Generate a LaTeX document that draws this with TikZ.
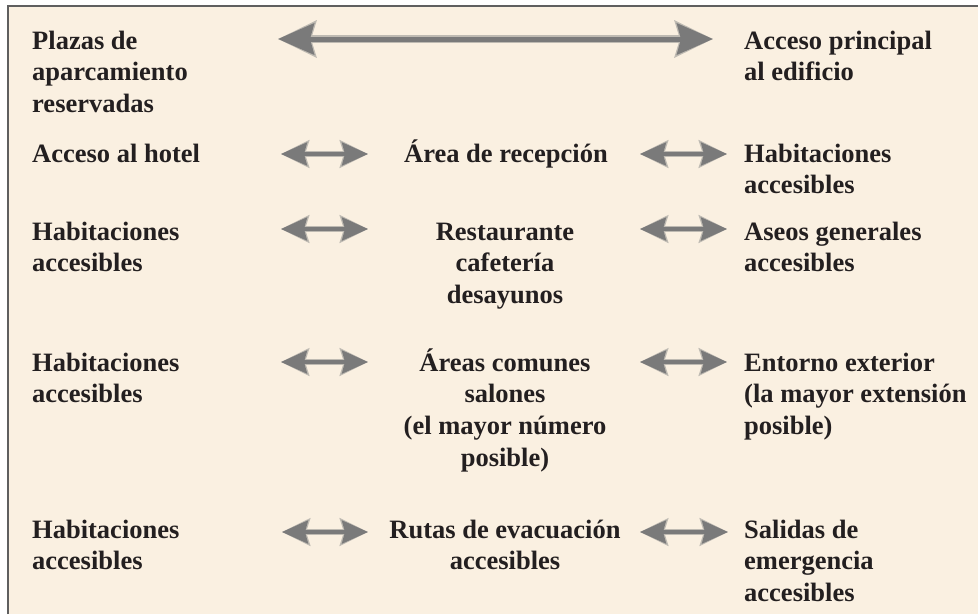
\documentclass[tikz,border=0pt]{standalone}
\usepackage{fontspec}
\setmainfont{Liberation Serif}
\usetikzlibrary{arrows.meta}
\definecolor{bgbeige}{RGB}{250,240,225}
\definecolor{framegray}{RGB}{95,95,95}
\definecolor{arrowgray}{RGB}{122,122,122}
\definecolor{halogray}{RGB}{190,186,178}
\definecolor{textdark}{RGB}{35,31,32}
\newcommand{\lcell}[1]{\begin{tabular}[t]{@{}l@{}}#1\end{tabular}}
\newcommand{\ccell}[1]{\begin{tabular}[t]{@{}c@{}}#1\end{tabular}}
\tikzset{
  txt/.style={inner sep=0pt, text=textdark, font=\fontsize{26.5}{31.7}\selectfont\bfseries},
  lefttxt/.style={txt, anchor=base west},
  midtxt/.style={txt, anchor=base},
  bighalo/.style={draw=halogray, line width=8pt,
    {Stealth[length=38pt,width=36pt,inset=5pt]}-{Stealth[length=38pt,width=36pt,inset=5pt]}},
  bigarrow/.style={draw=arrowgray, line width=5pt,
    {Stealth[length=36pt,width=31pt,inset=4pt]}-{Stealth[length=36pt,width=31pt,inset=4pt]}},
  smallhalo/.style={draw=halogray, line width=6pt,
    {Stealth[length=28pt,width=27pt,inset=4pt]}-{Stealth[length=28pt,width=27pt,inset=4pt]}},
  smallarrow/.style={draw=arrowgray, line width=3.5pt,
    {Stealth[length=26pt,width=23pt,inset=3pt]}-{Stealth[length=26pt,width=23pt,inset=3pt]}},
}
\begin{document}
\begin{tikzpicture}[x=1pt,y=-1pt]
  \useasboundingbox (0,0) rectangle (978,614);
  \fill[white] (0,0) rectangle (978,614);
  \fill[bgbeige] (8,6) rectangle (978,614);
  \draw[framegray, line width=1.6pt] (8,614) -- (8,6) -- (978,6);

  % left column
  \node[lefttxt] (l1) at (32,49)  {\lcell{Plazas de\\aparcamiento\\reservadas}};
  \node[lefttxt] (l2) at (32,162) {\lcell{Acceso al hotel}};
  \node[lefttxt] (l3) at (32,240) {\lcell{Habitaciones\\accesibles}};
  \node[lefttxt] (l4) at (32,371) {\lcell{Habitaciones\\accesibles}};
  \node[lefttxt] (l5) at (32,538) {\lcell{Habitaciones\\accesibles}};

  % centre column
  \node[midtxt] (c2) at (506,162) {\ccell{Área de recepción}};
  \node[midtxt] (c3) at (505,240) {\ccell{Restaurante\\cafetería\\desayunos}};
  \node[midtxt] (c4) at (505,371) {\ccell{Áreas comunes\\salones\\(el mayor número\\posible)}};
  \node[midtxt] (c5) at (505,538) {\ccell{Rutas de evacuación\\accesibles}};

  % right column
  \node[lefttxt] (r1) at (744,49)  {\lcell{Acceso principal\\al edificio}};
  \node[lefttxt] (r2) at (744,162) {\lcell{Habitaciones\\accesibles}};
  \node[lefttxt] (r3) at (744,240) {\lcell{Aseos generales\\accesibles}};
  \node[lefttxt] (r4) at (744,371) {\lcell{Entorno exterior\\(la mayor extensión\\posible)}};
  \node[lefttxt] (r5) at (744,538) {\lcell{Salidas de\\emergencia\\accesibles}};

  % arrow end points
  \coordinate (a1a) at (278,39);  \coordinate (a1b) at (713,39);
  \coordinate (a2a) at (281,154); \coordinate (a2b) at (368,154);
  \coordinate (a2c) at (640,154); \coordinate (a2d) at (727,154);
  \coordinate (a3a) at (281,229); \coordinate (a3b) at (368,229);
  \coordinate (a3c) at (640,229); \coordinate (a3d) at (727,229);
  \coordinate (a4a) at (281,362); \coordinate (a4b) at (368,362);
  \coordinate (a4c) at (640,362); \coordinate (a4d) at (727,362);
  \coordinate (a5a) at (282,532); \coordinate (a5b) at (368,532);
  \coordinate (a5c) at (640,532); \coordinate (a5d) at (728,532);

  \draw[bighalo] (a1a) -- (a1b);
  \draw[bigarrow] (a1a) -- (a1b);
  \foreach \p/\q in {a2a/a2b,a2c/a2d,a3a/a3b,a3c/a3d,a4a/a4b,a4c/a4d,a5a/a5b,a5c/a5d}{
    \draw[smallhalo] (\p) -- (\q);
    \draw[smallarrow] (\p) -- (\q);
  }
\end{tikzpicture}
\end{document}
